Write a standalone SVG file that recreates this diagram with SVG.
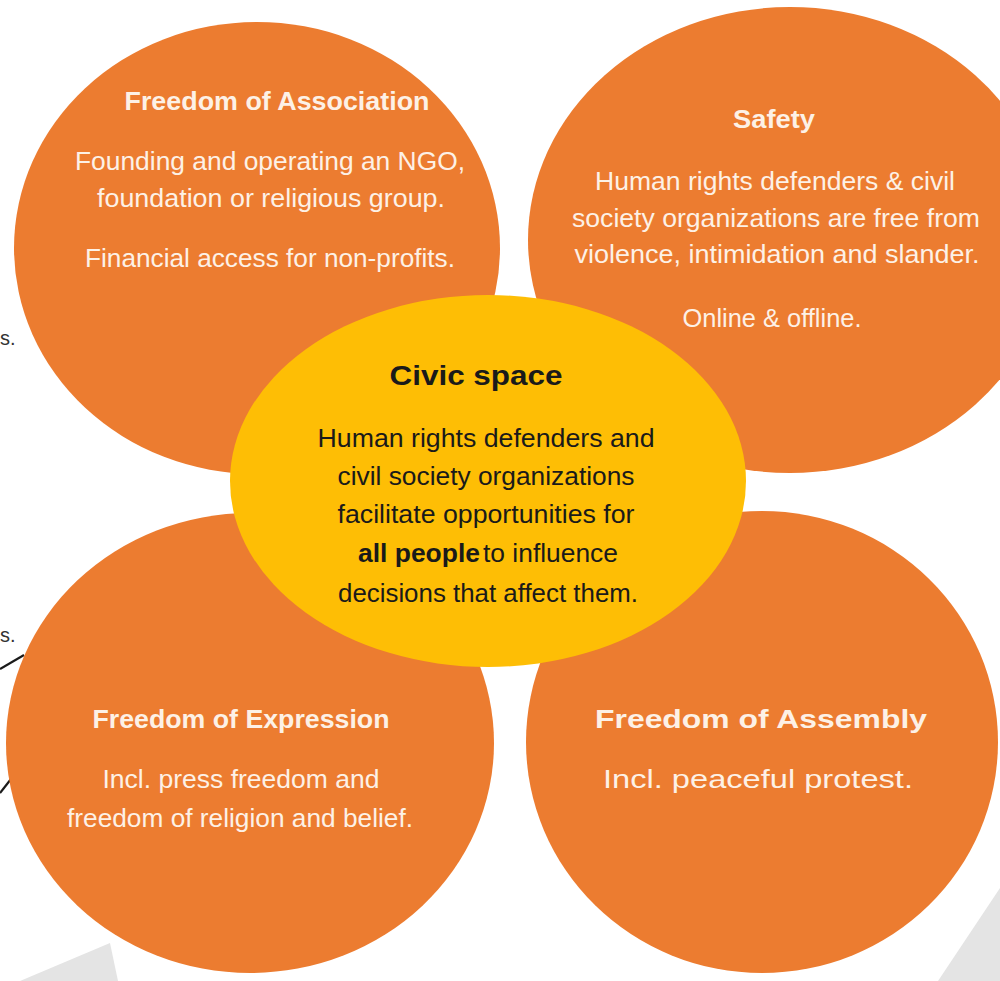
<svg xmlns="http://www.w3.org/2000/svg" width="1000" height="981" viewBox="0 0 1000 981">
<style>
.petal{fill:#EC7C30;}
.core{fill:#FEBE05;}
.t{font-family:"Liberation Sans",Arial,sans-serif;text-anchor:middle;}
.w{fill:#FDF1E6;}
.k{fill:#1A1A1A;}
.h{font-weight:bold;font-size:25px;}
.b{font-size:25px;}
.gray{fill:#E4E4E4;}
.conn{stroke:#1A1A1A;stroke-width:2.2;fill:none;}
.side{font-family:"Liberation Sans",Arial,sans-serif;font-size:20px;fill:#333333;}
</style>
<rect width="1000" height="981" fill="#FFFFFF"/>
<g id="background">
<polygon class="gray" points="20,981 110,943 118,981"/>
<polygon class="gray" points="1000,888 938,981 1000,981"/>
</g>
<g id="side-labels">
<text class="side" x="0" y="345">s.</text>
<text class="side" x="0" y="642">s.</text>
</g>
<g id="connectors">
<line class="conn" x1="0" y1="669" x2="24" y2="655"/>
<line class="conn" x1="0" y1="793" x2="11" y2="779"/>
</g>
<g id="association">
<ellipse class="petal" cx="257" cy="248" rx="243" ry="226"/>
<text class="t w h" x="277" y="110" textLength="305" lengthAdjust="spacingAndGlyphs">Freedom of Association</text>
<text class="t w b" x="270" y="170" textLength="390" lengthAdjust="spacingAndGlyphs">Founding and operating an NGO,</text>
<text class="t w b" x="271" y="207" textLength="348" lengthAdjust="spacingAndGlyphs">foundation or religious group.</text>
<text class="t w b" x="270" y="267" textLength="370" lengthAdjust="spacingAndGlyphs">Financial access for non-profits.</text>
</g>
<g id="safety">
<ellipse class="petal" cx="790" cy="240" rx="262" ry="233"/>
<text class="t w h" x="774" y="128" textLength="82" lengthAdjust="spacingAndGlyphs">Safety</text>
<text class="t w b" x="775" y="190" textLength="360" lengthAdjust="spacingAndGlyphs">Human rights defenders &amp; civil</text>
<text class="t w b" x="776" y="227" textLength="408" lengthAdjust="spacingAndGlyphs">society organizations are free from</text>
<text class="t w b" x="777" y="263" textLength="405" lengthAdjust="spacingAndGlyphs">violence, intimidation  and slander.</text>
<text class="t w b" x="772" y="327" textLength="179" lengthAdjust="spacingAndGlyphs">Online &amp; offline.</text>
</g>
<g id="expression">
<ellipse class="petal" cx="250" cy="743" rx="244" ry="230"/>
<text class="t w h" x="241" y="728" textLength="297" lengthAdjust="spacingAndGlyphs">Freedom of Expression</text>
<text class="t w b" x="241" y="788" textLength="277" lengthAdjust="spacingAndGlyphs">Incl. press freedom and</text>
<text class="t w b" x="240" y="827" textLength="346" lengthAdjust="spacingAndGlyphs">freedom of religion and belief.</text>
</g>
<g id="assembly">
<ellipse class="petal" cx="762" cy="742" rx="236" ry="231"/>
<text class="t w h" x="761" y="728" textLength="332" lengthAdjust="spacingAndGlyphs">Freedom of Assembly</text>
<text class="t w b" x="758" y="788" textLength="310" lengthAdjust="spacingAndGlyphs">Incl. peaceful protest.</text>
</g>
<g id="civic-space">
<ellipse class="core" cx="488" cy="481" rx="258" ry="186"/>
<text class="t k" x="476" y="385" font-size="28" font-weight="bold" textLength="173" lengthAdjust="spacingAndGlyphs">Civic space</text>
<text class="t k b" x="486" y="447" textLength="337" lengthAdjust="spacingAndGlyphs">Human rights defenders and</text>
<text class="t k b" x="486" y="485" textLength="297" lengthAdjust="spacingAndGlyphs">civil society organizations</text>
<text class="t k b" x="486" y="523" textLength="297" lengthAdjust="spacingAndGlyphs">facilitate  opportunities for</text>
<text class="k b" font-family="Liberation Sans, Arial, sans-serif" x="358" y="562"><tspan font-weight="bold" textLength="122" lengthAdjust="spacingAndGlyphs">all people</tspan><tspan x="483" textLength="135" lengthAdjust="spacingAndGlyphs">to influence</tspan></text>
<text class="t k b" x="488" y="602" textLength="300" lengthAdjust="spacingAndGlyphs">decisions that affect them.</text>
</g>
</svg>
